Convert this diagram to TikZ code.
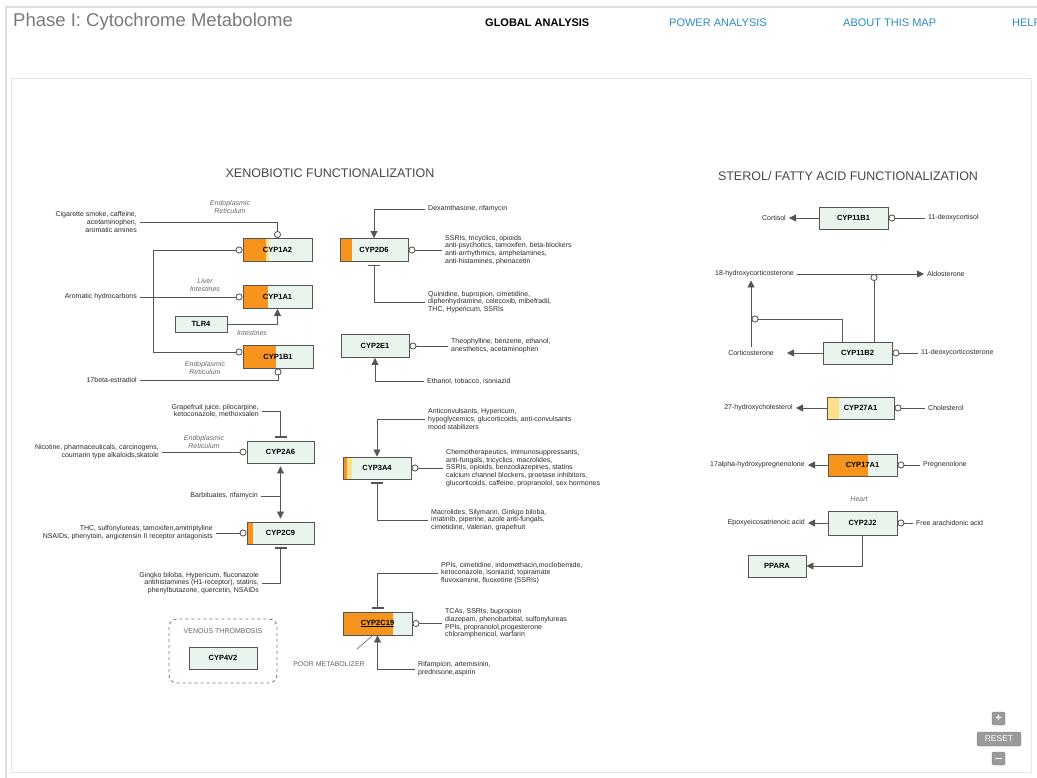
\documentclass[tikz,border=0pt]{standalone}
\usepackage{fontspec}
\setmainfont{Liberation Sans}
\usetikzlibrary{arrows.meta}
\definecolor{linec}{HTML}{555555}
\definecolor{genefill}{HTML}{E9F5EC}
\definecolor{orangec}{HTML}{F7941E}
\definecolor{yellowc}{HTML}{FDE08B}
\definecolor{txtc}{HTML}{2A2A2A}
\definecolor{linkc}{HTML}{2B8DC6}
\definecolor{titlec}{HTML}{7A7A7A}
\definecolor{sectc}{HTML}{474747}
\definecolor{italc}{HTML}{666666}
\definecolor{framec}{HTML}{DDDDDD}
\definecolor{ctrlc}{HTML}{9A9A9A}
\begin{document}
\begin{tikzpicture}[x=1pt,y=-1pt,
  gene/.style={draw=linec, fill=genefill, line width=0.9pt, inner sep=0pt,
    minimum width=69pt, minimum height=23pt,
    font=\fontsize{7.5}{8}\selectfont\bfseries, text=black},
  part/.style n args={2}{path picture={
    \fill[orangec] (path picture bounding box.north west) rectangle ([xshift=#1]path picture bounding box.south west);
    \fill[yellowc] ([xshift=#1]path picture bounding box.north west) rectangle ([xshift=#2]path picture bounding box.south west);}},
  txt/.style={font=\fontsize{7}{7.7}\selectfont, text=txtc, inner xsep=3pt, inner ysep=1pt, align=left},
  txtr/.style={txt, align=right},
  ital/.style={font=\fontsize{7}{7.7}\selectfont\itshape, text=italc, inner sep=0pt, align=center},
  conn/.style={draw=linec, line width=0.85pt},
  arr/.style={conn, -{Triangle[length=7pt,width=7pt]}},
  circs/.style={conn, {Circle[length=7pt,fill=white]}-},
  circe/.style={conn, -{Circle[length=7pt,fill=white]}},
  inh/.style={conn, -{Bar[width=12pt,line width=1.2pt]}, shorten >=3pt},
  ctrl/.style={fill=ctrlc, draw=ctrlc!80!black, rounded corners=2pt, text=white, inner sep=0pt}
]
\useasboundingbox (0,0) rectangle (1037,778);
\fill[white] (0,0) rectangle (1037,778);
% frames
\draw[framec, line width=2pt] (6,778) -- (6,7) -- (1037,7);
\draw[framec!80!white, line width=1pt] (11,79) rectangle (1031,772);

% header
\node[anchor=west, font=\fontsize{18.5}{20}\selectfont, text=titlec, inner sep=0pt] (title) at (13,22) {Phase I: Cytochrome Metabolome};
\node[anchor=west, font=\fontsize{11}{12}\selectfont\bfseries, inner sep=0pt] (nav1) at (485,23) {GLOBAL ANALYSIS};
\node[anchor=west, font=\fontsize{11}{12}\selectfont, text=linkc, inner sep=0pt] (nav2) at (669,23) {POWER ANALYSIS};
\node[anchor=west, font=\fontsize{11}{12}\selectfont, text=linkc, inner sep=0pt] (nav3) at (843,23) {ABOUT THIS MAP};
\node[anchor=west, font=\fontsize{11}{12}\selectfont, text=linkc, inner sep=0pt] (nav4) at (1012,23) {HELP};

% section titles
\node[font=\fontsize{12.5}{13}\selectfont, text=sectc] (xeno) at (330,173) {XENOBIOTIC FUNCTIONALIZATION};
\node[font=\fontsize{12.5}{13}\selectfont, text=sectc] (sterol) at (848,176) {STEROL/ FATTY ACID FUNCTIONALIZATION};

% ---------- genes ----------
\node[gene, part={23pt}{26pt}] (cyp1a2) at (277.5,250) {CYP1A2};
\node[gene, part={25pt}{25pt}] (cyp1a1) at (277.5,297) {CYP1A1};
\node[gene, minimum width=52pt, minimum height=16pt] (tlr4) at (201,324) {TLR4};
\node[gene, minimum width=70pt, part={33pt}{33pt}] (cyp1b1) at (278,356.5) {CYP1B1};
\node[gene, minimum width=68pt, part={12pt}{12pt}] (cyp2d6) at (374,250) {CYP2D6};
\node[gene, minimum width=68pt] (cyp2e1) at (375,346) {CYP2E1};
\node[gene, minimum width=67pt, minimum height=22pt] (cyp2a6) at (280.5,452) {CYP2A6};
\node[gene, minimum width=67pt, minimum height=22pt, part={6pt}{6pt}] (cyp2c9) at (280.5,533) {CYP2C9};
\node[gene, minimum width=68pt, minimum height=22pt, part={4pt}{9pt}] (cyp3a4) at (377,468) {CYP3A4};
\node[gene, part={50pt}{50pt}] (cyp2c19) at (377.5,623.5) {\underline{CYP2C19}};
\node[gene, minimum width=68pt, minimum height=22pt] (cyp4v2) at (223,658) {CYP4V2};

\node[gene, minimum height=22pt] (cyp11b1) at (853.5,218) {CYP11B1};
\node[gene, minimum height=22pt] (cyp11b2) at (857.5,353) {CYP11B2};
\node[gene, minimum width=67pt, minimum height=22pt, part={0pt}{12pt}] (cyp27a1) at (860.5,408) {CYP27A1};
\node[gene, minimum height=22pt, part={40pt}{40pt}] (cyp17a1) at (862.5,465) {CYP17A1};
\node[gene, minimum height=24pt] (cyp2j2) at (862.5,523) {CYP2J2};
\node[gene, minimum width=58pt, minimum height=22pt] (ppara) at (777,566) {PPARA};

% ---------- CYP1 cluster ----------
\node[ital] (er1) at (230,207) {Endoplasmic\\Reticulum};
\node[ital] (liv) at (205,285) {Liver\\Intestines};
\node[ital] (int) at (252,333) {Intestines};
\node[ital] (er2) at (205,368) {Endoplasmic\\Reticulum};

\node[txtr, anchor=east] (t1) at (140,222) {Cigarette smoke, caffeine,\\acetaminophen,\\aromatic amines};
\node[txtr, anchor=east] (t2) at (140,297) {Aromatic hydrocarbons};
\node[txtr, anchor=east] (t3) at (140,380) {17beta-estradiol};
\coordinate (j1) at (153,297);

\draw[circe] (t1.east) -| (cyp1a2.north);
\draw[circe] (t2.east) -- (cyp1a1.west);
\draw[circe] (j1) |- (cyp1a2.west);
\draw[circe] (j1) |- ([yshift=4.5pt]cyp1b1.west);
\draw[arr] (tlr4.east) -| (cyp1a1.south);
\draw[circe] (t3.east) -| (cyp1b1.south);

% ---------- CYP2D6 / CYP2E1 ----------
\node[txt, anchor=west] (t4) at (425,209) {Dexamthasone, rifamycin};
\node[txt, anchor=west] (t5) at (442,250) {SSRIs, tricyclics, opioids\\anti-psychotics, tamoxifen, beta-blockers\\anti-arrhythmics, amphetamines,\\anti-histamines, phenacetin};
\node[txt, anchor=west] (t6) at (425,302) {Quinidine, bupropion, cimetidine,\\diphenhydramine, celecoxib, mibefradil,\\THC, Hypericum, SSRIs};
\node[txt, anchor=west] (t7) at (448,346) {Theophylline, benzene, ethanol,\\anesthetics, acetaminophen};
\node[txt, anchor=west] (t8) at (424,381) {Ethanol, tobacco, isoniazid};

\draw[arr] (t4.west) -| (cyp2d6.north);
\draw[circs] (cyp2d6.east) -- (t5.west);
\draw[inh] (t6.west) -| (cyp2d6.south);
\draw[circs] (cyp2e1.east) -- (t7.west);
\draw[arr] (t8.west) -| (cyp2e1.south);

% ---------- CYP2A6 / CYP2C9 ----------
\node[txtr, anchor=east] (t9) at (262,411) {Grapefruit juice, pilocarpine,\\ketoconazole, methoxsalen};
\node[ital] (er3) at (204,442) {Endoplasmic\\Reticulum};
\node[txtr, anchor=east] (t10) at (162,452) {Nicotine, pharmaceuticals, carcinogens,\\coumarin type alkaloids,skatole};
\node[txtr, anchor=east] (t11) at (261,496) {Barbituates, rifamycin};
\node[txtr, anchor=east] (t12) at (216,533) {THC, sulfonylureas, tamoxifen,amitriptyline\\NSAIDs, phenytoin, angiotensin II receptor antagonists};
\node[txtr, anchor=east] (t13) at (262,583) {Gingko biloba, Hypericum, fluconazole\\antihistamines (H1-receptor), statins,\\phenylbutazone, quercetin, NSAIDs};
\coordinate (j2) at (280.5,496);

\draw[inh] (t9.east) -| (cyp2a6.north);
\draw[circe] (t10.east) -- (cyp2a6.west);
\draw[conn, {Triangle[length=7pt,width=7pt]}-{Triangle[length=7pt,width=7pt]}, shorten <=3pt, shorten >=3pt] (cyp2a6.south) -- (cyp2c9.north);
\draw[conn] (t11.east) -- (j2);
\draw[circe] (t12.east) -- (cyp2c9.west);
\draw[inh] (t13.east) -| (cyp2c9.south);

% ---------- CYP3A4 ----------
\node[txt, anchor=west] (t14) at (425,419) {Anticonvulsants, Hypericum,\\hypoglycemics, glucorticoids, anti-convulsants\\mood stabilizers};
\node[txt, anchor=west] (t15) at (443,468) {Chemotherapeutics, immunosuppressants,\\anti-fungals, tricyclics, macrolides,\\SSRIs, opioids, benzodiazepines, statins\\calcium channel blockers, proetase inhibitors,\\glucorticoids, caffeine, propranolol, sex hormones};
\node[txt, anchor=west] (t16) at (428,520) {Macrolides, Silymarin, Ginkgo biloba,\\imatinib, piperine, azole anti-fungals,\\cimetidine, Valerian, grapefruit};

\draw[arr] (t14.west) -| (cyp3a4.north);
\draw[circs] (cyp3a4.east) -- (t15.west);
\draw[inh] (t16.west) -| (cyp3a4.south);

% ---------- CYP2C19 ----------
\node[txt, anchor=west] (t17) at (438,573) {PPIs, cimetidine, indomethacin,moclobemide,\\ketoconazole, isoniazid, topiramate\\fluvoxamine, fluoxetine (SSRIs)};
\node[txt, anchor=west] (t18) at (442,623.5) {TCAs, SSRIs, bupropion\\diazepam, phenobarbital, sulfonylureas\\PPIs, propranolol,progesterone\\chloramphenicol, warfarin};
\node[txt, anchor=west] (t19) at (415,669) {Rifampicin, artemisinin,\\prednisone,aspirin};
\node[font=\fontsize{7}{8}\selectfont, text=italc, inner sep=0pt] (pm) at (329,664) {POOR METABOLIZER};
\coordinate (pmtip) at (357,649);
\coordinate (pmend) at (372,636);

\draw[inh] (t17.west) -| (cyp2c19.north);
\draw[circs] (cyp2c19.east) -- (t18.west);
\draw[arr] (t19.west) -| (cyp2c19.south);
\draw[draw=italc, line width=0.6pt] (pmtip) -- (pmend);

% ---------- venous thrombosis ----------
\draw[draw=linec!80, dashed, line width=0.8pt, rounded corners=8pt] (169,619) rectangle (277,683);
\node[font=\fontsize{7}{8}\selectfont, text=italc, inner sep=0pt] (vt) at (223,631) {VENOUS THROMBOSIS};

% ---------- sterol side ----------
\node[txtr, anchor=east] (r1) at (789,218) {Cortisol};
\node[txt, anchor=west] (r2) at (925,218) {11-deoxycortisol};
\node[txtr, anchor=east, inner ysep=3pt] (r3) at (797,274) {18-hydroxycorticosterone};
\node[txt, anchor=west] (r4) at (924,274) {Aldosterone};
\node[txtr, anchor=east, inner ysep=3pt] (r5) at (777,353) {Corticosterone};
\node[txt, anchor=west] (r6) at (918,353) {11-deoxycorticosterone};
\node[txtr, anchor=east] (r7) at (796,408) {27-hydroxycholesterol};
\node[txt, anchor=west] (r8) at (925,408) {Cholesterol};
\node[txtr, anchor=east] (r9) at (808,465) {17alpha-hydroxypregnenolone};
\node[txt, anchor=west] (r10) at (920,465) {Pregnenolone};
\node[ital] (heart) at (859,499) {Heart};
\node[txtr, anchor=east] (r11) at (808,523) {Epoxyeicosatrienoic acid};
\node[txt, anchor=west] (r12) at (913,523) {Free arachidonic acid};
\coordinate (j3) at (874,274);
\coordinate (j4) at (751.5,319);

\draw[arr] (cyp11b1.west) -- (r1.east);
\draw[circs] (cyp11b1.east) -- (r2.west);
\draw[arr] (r3.east) -- (r4.west);
\draw[circs] (j3) -- (j3 |- cyp11b2.north);
\draw[arr] (cyp11b2.west) -- ([xshift=10pt]r5.east);
\draw[arr] (r5.north) -- (r5.north |- r3.south);
\draw[circs] (j4) -| ([xshift=-15.5pt]cyp11b2.north);
\draw[circs] (cyp11b2.east) -- (r6.west);
\draw[arr] (cyp27a1.west) -- (r7.east);
\draw[circs] (cyp27a1.east) -- (r8.west);
\draw[arr] (cyp17a1.west) -- (r9.east);
\draw[circs] (cyp17a1.east) -- (r10.west);
\draw[arr] (cyp2j2.west) -- (r11.east);
\draw[circs] (cyp2j2.east) -- (r12.west);
\draw[arr] (cyp2j2.south) |- (ppara.east);

% ---------- zoom controls ----------
\node[ctrl, minimum width=13pt, minimum height=13pt, font=\fontsize{11}{11}\selectfont\bfseries] (zin) at (998.5,718.5) {+};
\node[ctrl, minimum width=44pt, minimum height=14pt, font=\fontsize{8.5}{9}\selectfont] (reset) at (999,739) {RESET};
\node[ctrl, minimum width=13pt, minimum height=13pt] (zout) at (998.5,758.5) {\rule{7pt}{1.8pt}};
\end{tikzpicture}
\end{document}
